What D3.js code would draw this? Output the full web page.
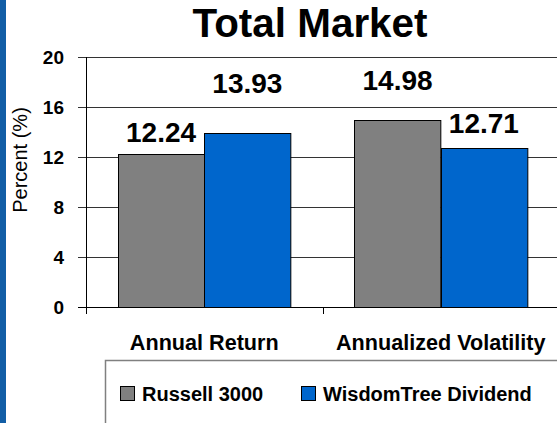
<!DOCTYPE html>
<html>
<head>
<meta charset="utf-8">
<script src="https://cdn.jsdelivr.net/npm/d3@7"></script>
<style>
  body { margin: 0; background: #fff; }
  svg { display: block; font-family: "Liberation Sans", Arial, sans-serif; }
</style>
</head>
<body>
<svg id="chart" width="557" height="423"></svg>
<script>
// data
var categories = ["Annual Return", "Annualized Volatility"];
var series = ["Russell 3000", "WisdomTree Dividend"];
var russell = [12.24, 14.98];
var wisdomTree = [13.93, 12.71];
var yTicks = [0, 4, 8, 12, 16, 20];

var colors = ["#808080", "#0066cc"];
// label offsets above bar top, as Excel placed them
var labelDy = [[12, 30], [40, 15]];

var svg = d3.select("#chart");
var plotLeft = 86, plotRight = 559, plotTop = 57, plotBottom = 307;

// blue strip at left edge
svg.append("rect").attr("x", 0).attr("y", 0).attr("width", 6).attr("height", 423).attr("fill", "#125ea6");

var y = d3.scaleLinear().domain([0, 20]).range([plotBottom, plotTop]);
var x0 = d3.scaleBand().domain(categories).range([plotLeft, plotRight]).paddingInner(0.27).paddingOuter(0.135);
var x1 = d3.scaleBand().domain(series).range([0, x0.bandwidth()]);

// gridlines
svg.append("g").selectAll("line").data(yTicks).enter().append("line")
  .attr("x1", plotLeft - 8).attr("x2", 557)
  .attr("y1", function(d){ return Math.round(y(d)) + 0.5; })
  .attr("y2", function(d){ return Math.round(y(d)) + 0.5; })
  .attr("stroke", function(d){ return d === 0 ? "#000" : "#333"; })
  .attr("stroke-width", 1);

// tick labels
svg.append("g").selectAll("text").data(yTicks).enter().append("text")
  .attr("x", 64).attr("y", function(d){ return y(d) + 7; })
  .attr("text-anchor", "end")
  .attr("font-size", "19px").attr("font-weight", "bold")
  .text(function(d){ return d; });

// bars
var values = [russell, wisdomTree];
series.forEach(function(s, si) {
  var g = svg.append("g");
  g.selectAll("rect").data(values[si]).enter().append("rect")
    .attr("x", function(d, i){ return Math.round(x0(categories[i]) + x1(s)) + 0.5; })
    .attr("y", function(d){ return Math.round(y(d)) + 0.5; })
    .attr("width", x1.bandwidth())
    .attr("height", function(d){ return Math.round(y(0)) - Math.round(y(d)); })
    .attr("fill", colors[si])
    .attr("stroke", "#000").attr("stroke-width", 1);
  g.selectAll("text").data(values[si]).enter().append("text")
    .attr("x", function(d, i){ return x0(categories[i]) + x1(s) + x1.bandwidth() / 2; })
    .attr("y", function(d, i){ return y(d) - labelDy[si][i]; })
    .attr("text-anchor", "middle")
    .attr("font-size", "28px").attr("font-weight", "bold")
    .text(function(d){ return d.toFixed(2); });
});

// y axis line and category ticks
svg.append("line").attr("x1", plotLeft + 0.5).attr("x2", plotLeft + 0.5).attr("y1", plotTop).attr("y2", plotBottom + 7).attr("stroke", "#000");
var step = x0.step();
svg.append("g").selectAll("line").data(d3.range(1, categories.length + 1)).enter().append("line")
  .attr("x1", function(d){ return Math.round(plotLeft + d * step) + 0.5; })
  .attr("x2", function(d){ return Math.round(plotLeft + d * step) + 0.5; })
  .attr("y1", plotBottom).attr("y2", plotBottom + 7).attr("stroke", "#000");

// category labels
svg.append("g").selectAll("text").data(categories).enter().append("text")
  .attr("x", function(d){ return x0(d) + x0.bandwidth() / 2; })
  .attr("y", 350)
  .attr("text-anchor", "middle")
  .attr("font-size", "21.6px").attr("font-weight", "bold")
  .text(function(d){ return d; });

// y axis title
svg.append("text")
  .attr("transform", "translate(27,160) rotate(-90)")
  .attr("text-anchor", "middle")
  .attr("font-size", "20px")
  .text("Percent (%)");

// title
svg.append("text")
  .attr("x", 310).attr("y", 37)
  .attr("text-anchor", "middle")
  .attr("font-size", "41px").attr("font-weight", "bold")
  .attr("textLength", 235).attr("lengthAdjust", "spacingAndGlyphs")
  .text("Total Market");

// legend
svg.append("rect").attr("x", 105.5).attr("y", 360.5).attr("width", 470).attr("height", 80)
  .attr("fill", "none").attr("stroke", "#808080").attr("stroke-width", 1.5);
var legendX = [120, 301];
var leg = svg.append("g").selectAll("g").data(series).enter().append("g")
  .attr("transform", function(d, i){ return "translate(" + legendX[i] + ",386)"; });
leg.append("rect").attr("x", 0.5).attr("y", 0.5).attr("width", 14).attr("height", 14)
  .attr("fill", function(d, i){ return colors[i]; }).attr("stroke", "#000");
leg.append("text").attr("x", 22).attr("y", 15)
  .attr("font-size", "20px").attr("font-weight", "bold")
  .text(function(d){ return d; });
</script>
</body>
</html>
